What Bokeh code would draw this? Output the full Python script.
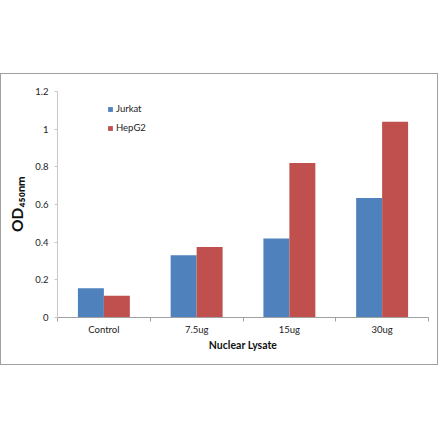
import numpy as np
from bokeh.plotting import figure
from bokeh.models import (Range1d, FixedTicker, Legend, LegendItem, Spacer)
from bokeh.layouts import column
from bokeh.embed import file_html
from bokeh.resources import INLINE

categories = ["Control", "7.5ug", "15ug", "30ug"]
jurkat = [0.155, 0.33, 0.42, 0.635]
hepg2 = [0.115, 0.375, 0.82, 1.04]
y_ticks = [0, 0.2, 0.4, 0.6, 0.8, 1, 1.2]
y_tick_labels = ["0", "0.2", "0.4", "0.6", "0.8", "1", "1.2"]

FONT = "Lato"
BLUE = "#4F81BD"
RED = "#C0504D"

idx = np.arange(len(categories))
centers = idx + 0.5
bw = 0.28

p = figure(width=438, height=292, output_backend="svg", toolbar_location=None,
           x_range=Range1d(0, len(categories)), y_range=Range1d(0, 1.2),
           min_border_left=56, min_border_right=11, min_border_top=17, min_border_bottom=49)
p.styles = {"border": "1px solid #a0a0a0", "box-sizing": "border-box"}
p.outline_line_color = None
p.xgrid.visible = False
p.ygrid.visible = False
p.background_fill_color = "white"
p.border_fill_color = "white"

rj = p.vbar(x=centers - bw / 2, top=jurkat, width=bw, bottom=0, fill_color=BLUE, line_color=None)
rh = p.vbar(x=centers + bw / 2, top=hepg2, width=bw, bottom=0, fill_color=RED, line_color=None)

# x axis
xa = p.xaxis[0]
xa.ticker = FixedTicker(ticks=list(centers), minor_ticks=list(np.arange(len(categories) + 1)))
xa.major_label_overrides = {float(c): n for c, n in zip(centers, categories)}
xa.major_tick_out = 0
xa.major_tick_in = 0
xa.minor_tick_out = 4
xa.minor_tick_in = 0
xa.minor_tick_line_color = "#a0a0a0"
xa.axis_line_color = "#a0a0a0"
xa.major_label_text_font = FONT
xa.major_label_text_font_size = "9.5px"
xa.major_label_text_color = "#222222"
xa.major_label_standoff = 2
xa.axis_label = "Nuclear Lysate"
xa.axis_label_text_font = FONT
xa.axis_label_text_font_style = "bold"
xa.axis_label_text_font_size = "10.5px"
xa.axis_label_text_color = "#111111"
xa.axis_label_standoff = 1

# y axis
ya = p.yaxis[0]
ya.ticker = FixedTicker(ticks=y_ticks, minor_ticks=[])
ya.major_label_overrides = {t: l for t, l in zip(y_ticks, y_tick_labels)}
ya.major_tick_out = 3
ya.major_tick_in = 0
ya.major_tick_line_color = "#c8c8c8"
ya.axis_line_color = "#c8c8c8"
ya.major_label_text_font = FONT
ya.major_label_text_font_size = "9.5px"
ya.major_label_text_color = "#222222"
ya.major_label_standoff = 6
ya.axis_label = "OD\u2084\u2085\u2080\u2099\u2098"
ya.axis_label_text_font = FONT
ya.axis_label_text_font_style = "bold"
ya.axis_label_text_font_size = "15.5px"
ya.axis_label_text_color = "#111111"
ya.axis_label_standoff = 6

legend = Legend(items=[LegendItem(label="Jurkat", renderers=[rj]),
                       LegendItem(label="HepG2", renderers=[rh])],
                location=(50, 180), orientation="vertical")
legend.border_line_color = None
legend.background_fill_alpha = 0
legend.padding = 0
legend.margin = 0
legend.spacing = 0
legend.glyph_width = 6
legend.glyph_height = 6
legend.label_height = 19
legend.label_standoff = 3
legend.label_text_font = FONT
legend.label_text_font_size = "9.5px"
legend.label_text_color = "#222222"
p.add_layout(legend)

layout = column(Spacer(height=73, width=10), p)
open("out.html", "w").write(file_html(layout, INLINE))
